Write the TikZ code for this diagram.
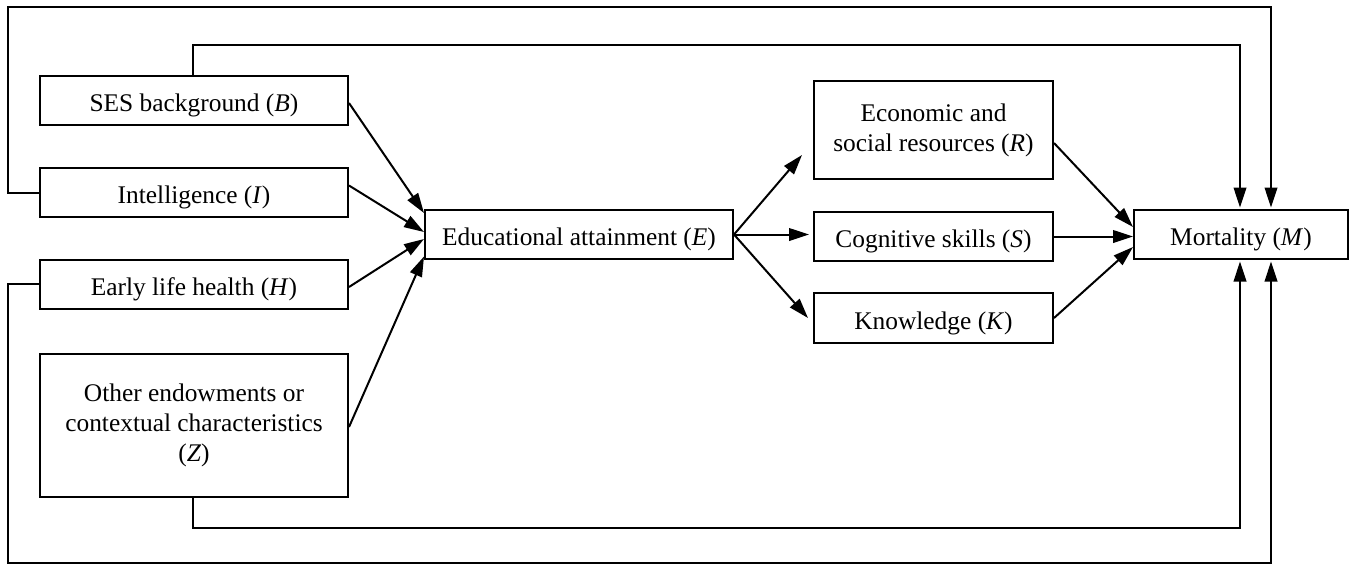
\documentclass[tikz,border=0pt]{standalone}
\usepackage{fontspec}
\setmainfont{Liberation Serif}
\usetikzlibrary{arrows.meta,calc}
\begin{document}
\begin{tikzpicture}[x=0.5pt,y=-0.5pt,line width=1pt,
  box/.style={draw, line width=1pt, inner sep=0pt, align=center,
    font=\fontsize{12.7pt}{15pt}\selectfont},
  onebox/.style={box, text height=11.2pt, text depth=0pt},
  arr/.style={-{Triangle[length=10pt,width=6.3pt]}, line width=1pt},
  ln/.style={line width=1pt}]
\useasboundingbox (0,0) rectangle (1355,564);

% left column
\node[onebox, minimum width=154pt, minimum height=24.5pt] (B) at (194,100.5) {SES background (\textit{B})};
\node[onebox, minimum width=154pt, minimum height=24.5pt] (I) at (194,192.5) {Intelligence (\textit{I})};
\node[onebox, minimum width=154pt, minimum height=24.5pt] (H) at (194,284) {Early life health (\textit{H})};
\node[box, minimum width=154pt, minimum height=71.5pt] (Z) at (194,425.5) {Other endowments or\\contextual characteristics\\(\textit{Z})};

% centre
\node[onebox, minimum width=154pt, minimum height=24.5pt] (E) at (579,234.5) {Educational attainment (\textit{E})};

% mediators
\node[box, minimum width=119.5pt, minimum height=49pt] (R) at (933.5,130) {Economic and\\social resources (\textit{R})};
\node[onebox, minimum width=119.5pt, minimum height=24.5pt] (S) at (933.5,236.5) {Cognitive skills (\textit{S})};
\node[onebox, minimum width=119.5pt, minimum height=25pt] (K) at (933.5,318) {Knowledge (\textit{K})};

% outcome
\node[onebox, minimum width=107pt, minimum height=24.5pt] (M) at (1241,234.5) {Mortality (\textit{M})};

% free ends of the arrows from E
\coordinate (eR) at (802,155);
\coordinate (eK) at (808,318);

% routing corners
\coordinate (cTL) at (8,7);
\coordinate (cTR) at (1271,7);
\coordinate (cIL) at (193,45);
\coordinate (cIR) at (1240,45);
\coordinate (cBL) at (8,563);
\coordinate (cBR) at (1271,563);
\coordinate (cZL) at (193,528);
\coordinate (cZR) at (1240,528);

% into E
\draw[arr] ($(B.east)+(0,2.5)$) -- ($(E.west)+(0,-21.5)$);
\draw[arr] ($(I.east)+(0,-7)$) -- ($(E.west)+(0,-2.5)$);
\draw[arr] ($(H.east)+(0,3)$) -- ($(E.west)+(0,4.5)$);
\draw[arr] ($(Z.east)+(0,1.5)$) -- ($(E.west)+(0,22)$);

% out of E
\draw[arr] (E.east) -- (eR);
\draw[arr, shorten >=2pt] (E.east) -- (S.west |- E.east);
\draw[arr] (E.east) -- (eK);

% into M
\draw[arr] ($(R.east)+(0,13)$) -- ($(M.west)+(0,-7.5)$);
\draw[arr] (S.east) -- (M.west |- S.east);
\draw[arr] (K.east) -- ($(M.west)+(0,12.5)$);

% feedback routes
\draw[arr] (I.west) -- (cTL |- I.west) -- (cTL) -- (cTR) -- ($(M.north)+(30,-1.5)$);
\draw[arr] ($(B.north)+(-1,0)$) -- (cIL) -- (cIR) -- ($(M.north)+(-1,-1.5)$);
\draw[arr] (H.west) -- (cBL |- H.west) -- (cBL) -- (cBR) -- ($(M.south)+(30,1.5)$);
\draw[arr] ($(Z.south)+(-1,0)$) -- (cZL) -- (cZR) -- ($(M.south)+(-1,1.5)$);
\end{tikzpicture}
\end{document}
